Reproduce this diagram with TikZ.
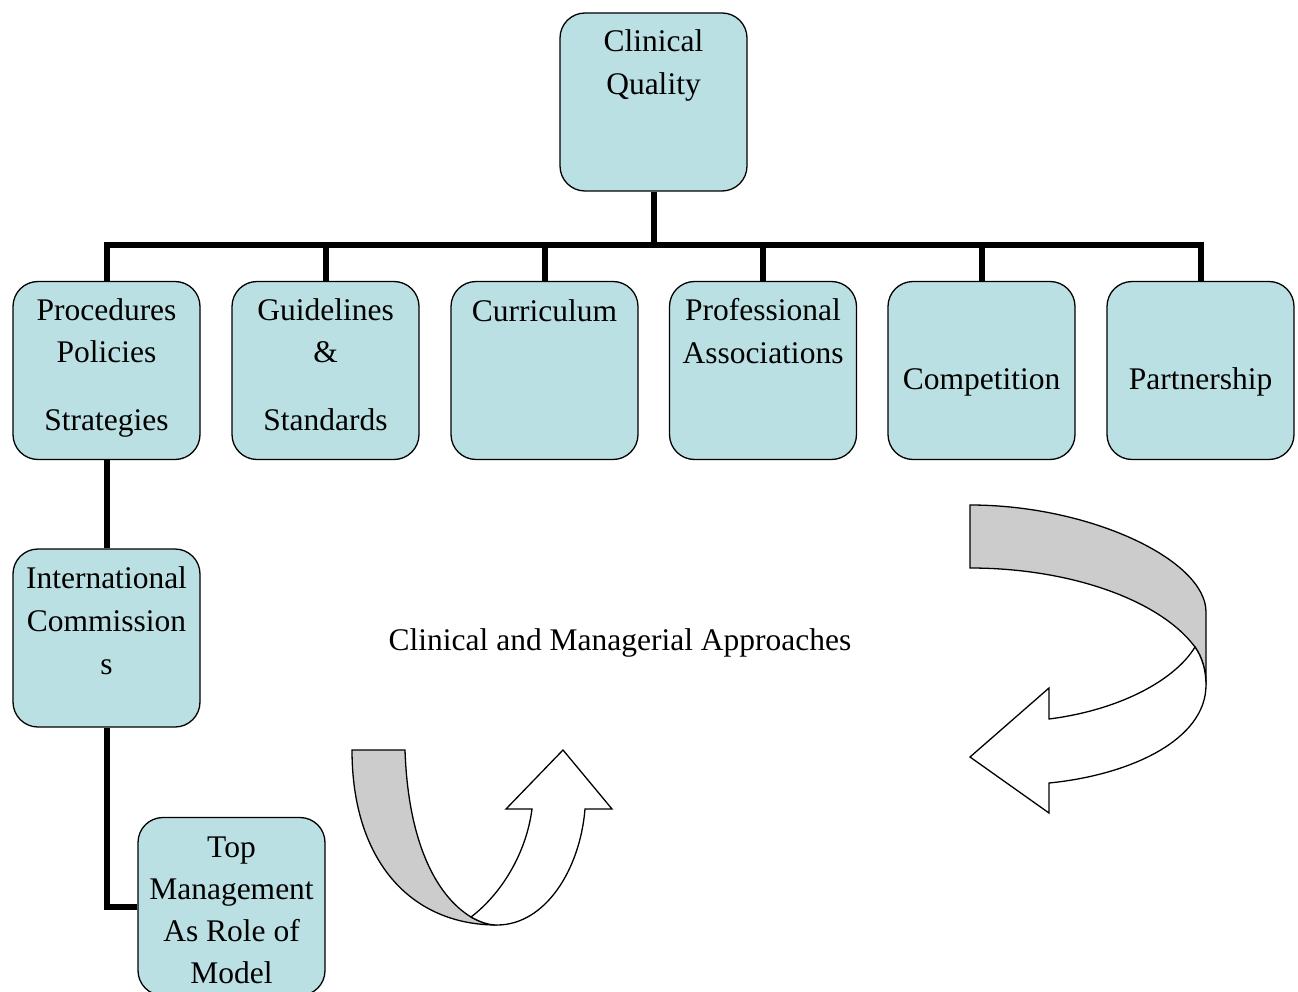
\documentclass[tikz,border=0pt]{standalone}
\usepackage{fontspec}
\setmainfont{Liberation Serif}
\definecolor{boxfill}{RGB}{187,224,227}
\definecolor{bandgray}{RGB}{204,204,204}
\begin{document}
\begin{tikzpicture}[x=1pt,y=-1pt,
 box/.style={draw=black,line width=1.3pt,fill=boxfill,rounded corners=25pt,minimum width=187pt,minimum height=178pt,inner sep=0pt},
 conn/.style={line width=6pt,line join=miter},
 txt/.style={anchor=base,inner sep=0pt,font=\fontsize{31.5}{42}\selectfont},
 band/.style={draw=black,line width=1.3pt,fill=bandgray,line join=miter},
 arr/.style={draw=black,line width=1.3pt,fill=white,line join=miter}]
\useasboundingbox (0,0) rectangle (1298,992);
\clip (0,0) rectangle (1298,992);

% boxes
\node[box] (cq) at (653.5,102) {};
\node[box] (b1) at (106.5,370.5) {};
\node[box] (b2) at (325.5,370.5) {};
\node[box] (b3) at (544.5,370.5) {};
\node[box] (b4) at (763,370.5) {};
\node[box] (b5) at (981.5,370.5) {};
\node[box] (b6) at (1200.5,370.5) {};
\node[box] (ic) at (106.5,638) {};
\node[box] (tm) at (231.5,906.5) {};

% connectors
\coordinate (bus) at (653.5,245);
\draw[conn] (cq.south) -- (bus);
\draw[conn] (b1.north) |- (bus) -| (b6.north);
\foreach \b in {b2,b3,b4,b5} \draw[conn] (\b.north) -- (\b.north |- bus);
\draw[conn] (b1.south) -- (ic.north);
\draw[conn] (ic.south) |- (tm.west);

% texts
\node[txt] (t1) at (653.5,52) {Clinical};
\node[txt] (t2) at (653.5,95) {Quality};
\node[txt] (t3) at (106.5,320) {Procedures};
\node[txt] (t4) at (106.5,362) {Policies};
\node[txt] (t5) at (106.5,430) {Strategies};
\node[txt] (t6) at (325.5,320) {Guidelines};
\node[txt] (t7) at (325.5,362) {\&};
\node[txt] (t8) at (325.5,430) {Standards};
\node[txt] (t9) at (544.5,321) {Curriculum};
\node[txt] (t10) at (763,320) {Professional};
\node[txt] (t11) at (763,363) {Associations};
\node[txt] (t12) at (981.5,389) {Competition};
\node[txt] (t13) at (1200.5,389) {Partnership};
\node[txt] (t14) at (106.5,588) {International};
\node[txt] (t15) at (106.5,631) {Commission};
\node[txt] (t16) at (106.5,674) {s};
\node[txt] (t17) at (231.5,857) {Top};
\node[txt] (t18) at (231.5,899) {Management};
\node[txt] (t19) at (231.5,941) {As Role of};
\node[txt] (t20) at (231.5,983) {Model};
\node[txt] (t21) at (620,650) {Clinical and Managerial Approaches};

% right curved arrow
\draw[band] (970,505) .. controls (1090,505) and (1206,560) .. (1206,612)
  -- (1206,685) .. controls (1206,670) and (1202,657) .. (1195,647)
  .. controls (1160,600) and (1070,568) .. (970,568) -- cycle;
\draw[arr] (1195,647) .. controls (1202,657) and (1206,670) .. (1206,685)
  .. controls (1206,740) and (1130,775) .. (1049,783)
  -- (1049,813) -- (970,757) -- (1049,688) -- (1049,719)
  .. controls (1120,710) and (1175,680) .. (1195,647) -- cycle;

% lower curved arrow
\draw[band] (352,750) -- (405,750)
  .. controls (408,840) and (435,895) .. (471,917)
  .. controls (480,922) and (488,925) .. (497,925)
  .. controls (410,925) and (352,860) .. (352,750) -- cycle;
\draw[arr] (471,917) .. controls (480,922) and (488,925) .. (497,925)
  .. controls (545,925) and (580,870) .. (585,809)
  -- (612,809) -- (563,750) -- (506,809) -- (532,809)
  .. controls (526,855) and (500,895) .. (471,917) -- cycle;
\end{tikzpicture}
\end{document}
